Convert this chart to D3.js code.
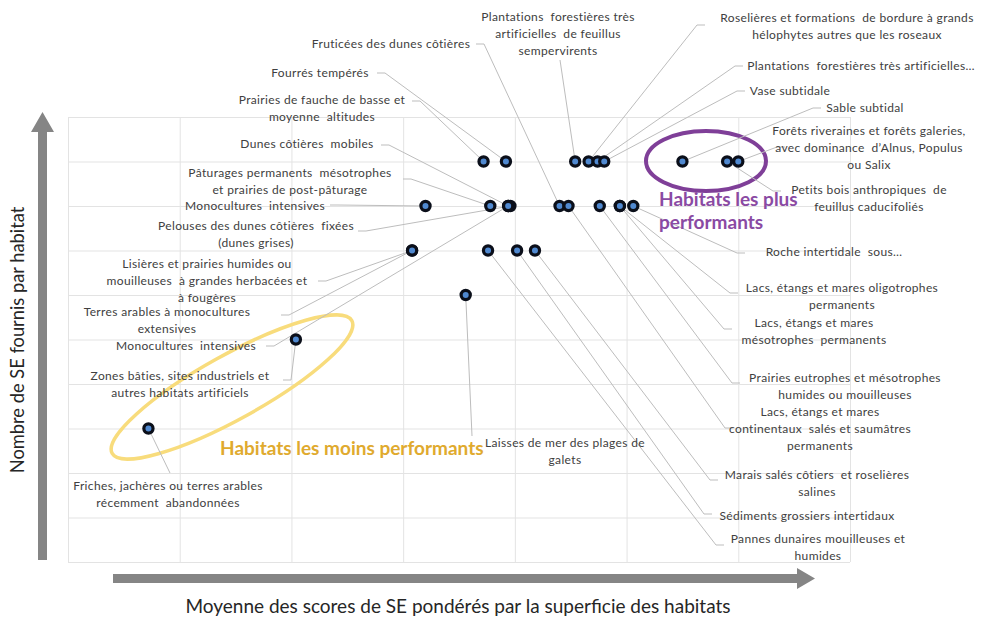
<!DOCTYPE html>
<html>
<head>
<meta charset="utf-8">
<script src="https://cdn.jsdelivr.net/npm/d3@7"></script>
<style>
  html, body { margin: 0; padding: 0; background: #fff; }
  svg { display: block; }
  text { font-family: Lato, "Open Sans", sans-serif; white-space: pre; }
</style>
</head>
<body>
<svg id="chart" width="981" height="617"></svg>
<script>
// Habitats (one point per habitat)
const habitats = [
  "Plantations forestières très artificielles de feuillus sempervirents",
  "Roselières et formations de bordure à grands hélophytes autres que les roseaux",
  "Fruticées des dunes côtières",
  "Plantations forestières très artificielles…",
  "Fourrés tempérés",
  "Vase subtidale",
  "Prairies de fauche de basse et moyenne altitudes",
  "Sable subtidal",
  "Forêts riveraines et forêts galeries, avec dominance d’Alnus, Populus ou Salix",
  "Dunes côtières mobiles",
  "Petits bois anthropiques de feuillus caducifoliés",
  "Pâturages permanents mésotrophes et prairies de post-pâturage",
  "Monocultures intensives",
  "Pelouses des dunes côtières fixées (dunes grises)",
  "Roche intertidale sous…",
  "Lisières et prairies humides ou mouilleuses à grandes herbacées et à fougères",
  "Lacs, étangs et mares oligotrophes permanents",
  "Terres arables à monocultures extensives",
  "Lacs, étangs et mares mésotrophes permanents",
  "Monocultures intensives",
  "Zones bâties, sites industriels et autres habitats artificiels",
  "Prairies eutrophes et mésotrophes humides ou mouilleuses",
  "Lacs, étangs et mares continentaux salés et saumâtres permanents",
  "Laisses de mer des plages de galets",
  "Friches, jachères ou terres arables récemment abandonnées",
  "Marais salés côtiers et roselières salines",
  "Sédiments grossiers intertidaux",
  "Pannes dunaires mouilleuses et humides"
];

// Mean ES score weighted by habitat area
const scoreSE = [
  2.27, 2.33, 2.20, 2.37, 1.96, 2.40, 1.86, 2.75, 3.00, 1.97,
  2.95, 1.89, 1.60, 1.98, 2.53, 1.54, 2.47, 1.54, 2.47, 1.97,
  1.02, 2.38, 2.24, 1.78, 0.36, 2.09, 2.01, 1.88
];

// Number of ES provided per habitat
const nbSE = [
  9, 9, 8, 9, 9, 9, 9, 9, 9, 8,
  9, 8, 8, 8, 8, 7, 8, 7, 8, 8,
  5, 8, 8, 6, 3, 7, 7, 7
];

// Label text, split into lines
const labelLines = [
  ["Plantations  forestières très", "artificielles  de feuillus", "sempervirents"],
  ["Roselières et formations  de bordure à grands", "hélophytes autres que les roseaux"],
  ["Fruticées des dunes côtières"],
  ["Plantations  forestières très artificielles…"],
  ["Fourrés tempérés"],
  ["Vase subtidale"],
  ["Prairies de fauche de basse et", "moyenne  altitudes"],
  ["Sable subtidal"],
  ["Forêts riveraines et forêts galeries,", "avec dominance  d’Alnus, Populus", "ou Salix"],
  ["Dunes côtières  mobiles"],
  ["Petits bois anthropiques  de", "feuillus caducifoliés"],
  ["Pâturages permanents  mésotrophes", "et prairies de post-pâturage"],
  ["Monocultures  intensives"],
  ["Pelouses des dunes côtières  fixées", "(dunes grises)"],
  ["Roche intertidale  sous…"],
  ["Lisières et prairies humides ou", "mouilleuses  à grandes herbacées et", "à fougères"],
  ["Lacs, étangs et mares oligotrophes", "permanents"],
  ["Terres arables à monocultures", "extensives"],
  ["Lacs, étangs et mares", "mésotrophes  permanents"],
  ["Monocultures  intensives"],
  ["Zones bâties, sites industriels et", "autres habitats artificiels"],
  ["Prairies eutrophes et mésotrophes", "humides ou mouilleuses"],
  ["Lacs, étangs et mares", "continentaux  salés et saumâtres", "permanents"],
  ["Laisses de mer des plages de", "galets"],
  ["Friches, jachères ou terres arables", "récemment  abandonnées"],
  ["Marais salés côtiers  et roselières", "salines"],
  ["Sédiments grossiers intertidaux"],
  ["Pannes dunaires mouilleuses et", "humides"]
];

// Label placement (page layout): centre x, first-line y, leader anchor, elbow
const labelPos = [
  {cx: 558, y: 17,  ax: 560, ay: 60,  elbow: false},
  {cx: 847, y: 18,  ax: 705, ay: 25,  elbow: true},
  {cx: 391, y: 44,  ax: 476, ay: 44,  elbow: true},
  {cx: 861, y: 66,  ax: 743, ay: 66,  elbow: true},
  {cx: 320, y: 73,  ax: 377, ay: 73,  elbow: true},
  {cx: 790, y: 91,  ax: 745, ay: 91,  elbow: true},
  {cx: 322, y: 100, ax: 412, ay: 101, elbow: true},
  {cx: 865, y: 108, ax: 821, ay: 108, elbow: true},
  {cx: 869, y: 131, ax: 785, ay: 147, elbow: true},
  {cx: 307, y: 144, ax: 381, ay: 145, elbow: true},
  {cx: 869, y: 190, ax: 781, ay: 191, elbow: true},
  {cx: 290, y: 173, ax: 403, ay: 179, elbow: true},
  {cx: 255, y: 206, ax: 330, ay: 205, elbow: true},
  {cx: 256, y: 226, ax: 358, ay: 231, elbow: true},
  {cx: 834, y: 252, ax: 745, ay: 253, elbow: true},
  {cx: 207, y: 264, ax: 318, ay: 281, elbow: true},
  {cx: 842, y: 288, ax: 738, ay: 293, elbow: true},
  {cx: 167, y: 312, ax: 281, ay: 315, elbow: true},
  {cx: 814, y: 323, ax: 732, ay: 329, elbow: true},
  {cx: 186, y: 346, ax: 266, ay: 346, elbow: true},
  {cx: 180, y: 376, ax: 283, ay: 380, elbow: true},
  {cx: 845, y: 378, ax: 740, ay: 383, elbow: true},
  {cx: 820, y: 412, ax: 733, ay: 428, elbow: true},
  {cx: 565, y: 443, ax: 472, ay: 436, elbow: false},
  {cx: 168, y: 486, ax: 170, ay: 473, elbow: false},
  {cx: 817, y: 475, ax: 718, ay: 480, elbow: true},
  {cx: 807, y: 516, ax: 712, ay: 514, elbow: true},
  {cx: 818, y: 539, ax: 724, ay: 545, elbow: true}
];

const xTicks = d3.range(0, 3.5001, 0.5);
const yTicks = d3.range(0, 10.001, 1);

const svg = d3.select("#chart");
const plot = {left: 68, right: 850, top: 117, bottom: 562};

const x = d3.scaleLinear().domain([0, 3.5]).range([plot.left, plot.right]);
const y = d3.scaleLinear().domain([0, 10]).range([plot.bottom, plot.top]);

// Gridlines (no tick labels)
const gridColor = "#e3e3e3";
svg.append("g")
  .attr("transform", `translate(0,${plot.bottom})`)
  .call(d3.axisBottom(x).tickValues(xTicks).tickSize(-(plot.bottom - plot.top)).tickFormat(""))
  .call(g => g.select(".domain").remove())
  .call(g => g.selectAll("line").attr("stroke", gridColor).attr("stroke-width", 1));
svg.append("g")
  .attr("transform", `translate(${plot.left},0)`)
  .call(d3.axisLeft(y).tickValues(yTicks).tickSize(-(plot.right - plot.left)).tickFormat(""))
  .call(g => g.select(".domain").remove())
  .call(g => g.selectAll("line").attr("stroke", gridColor).attr("stroke-width", 1));

// Axis arrows
const arrowColor = "#858585";
svg.append("path")
  .attr("d", "M38,560 L38,132 L31,132 L42.5,112 L54,132 L47,132 L47,560 Z")
  .attr("fill", arrowColor);
svg.append("path")
  .attr("d", "M113,574 L797,574 L797,568 L815,578.5 L797,589 L797,583 L113,583 Z")
  .attr("fill", arrowColor);

// Axis titles
svg.append("text")
  .attr("x", 458).attr("y", 613)
  .attr("text-anchor", "middle")
  .attr("font-size", 19).attr("fill", "#262626")
  .text("Moyenne des scores de SE pondérés par la superficie des habitats");
svg.append("text")
  .attr("transform", "translate(24,340) rotate(-90)")
  .attr("text-anchor", "middle")
  .attr("font-size", 18.3).attr("fill", "#262626")
  .text("Nombre de SE fournis par habitat");

// Highlight ellipses
svg.append("ellipse")
  .attr("cx", 706).attr("cy", 161).attr("rx", 60).attr("ry", 30)
  .attr("fill", "none").attr("stroke", "#7f3f98").attr("stroke-width", 4);
svg.append("ellipse")
  .attr("transform", "translate(232,387) rotate(-29)")
  .attr("rx", 137).attr("ry", 32)
  .attr("fill", "none").attr("stroke", "#f8dc7c").attr("stroke-width", 3.5);

// Data records
const records = habitats.map((h, i) => ({
  name: h, score: scoreSE[i], nb: nbSE[i], lines: labelLines[i], pos: labelPos[i]
}));

// Leader lines
const leaders = svg.append("g").attr("fill", "none").attr("stroke", "#bdbdbd").attr("stroke-width", 1);
records.forEach(d => {
  const px = x(d.score), py = y(d.nb);
  const p = d.pos;
  const pts = [[p.ax, p.ay]];
  if (p.elbow) pts.push([p.ax + (px > p.ax ? 8 : -8), p.ay]);
  pts.push([px, py]);
  leaders.append("path").attr("d", d3.line()(pts));
});

// Labels
const labels = svg.append("g")
  .attr("font-size", 12).attr("letter-spacing", 0.35)
  .attr("fill", "#404040").attr("text-anchor", "middle");
records.forEach(d => {
  const t = labels.append("text").attr("x", d.pos.cx).attr("y", d.pos.y + 4);
  d.lines.forEach((ln, k) => {
    t.append("tspan").attr("x", d.pos.cx).attr("dy", k === 0 ? 0 : 16.8).text(ln);
  });
});

// Points
svg.append("g").selectAll("circle")
  .data(records)
  .join("circle")
  .attr("cx", d => x(d.score))
  .attr("cy", d => y(d.nb))
  .attr("r", 4.6)
  .attr("fill", "#5089d0")
  .attr("stroke", "#0b0f1a")
  .attr("stroke-width", 3.2);

// Group annotations
svg.append("text")
  .attr("x", 659).attr("y", 206)
  .attr("font-size", 19).attr("font-weight", 700).attr("fill", "#8a4aa3")
  .call(t => {
    t.append("tspan").attr("x", 659).attr("dy", 0).text("Habitats les plus");
    t.append("tspan").attr("x", 659).attr("dy", 23).text("performants");
  });
svg.append("text")
  .attr("x", 220).attr("y", 455)
  .attr("font-size", 19).attr("font-weight", 700).attr("fill", "#e0aa2e")
  .text("Habitats les moins performants");
</script>
</body>
</html>
